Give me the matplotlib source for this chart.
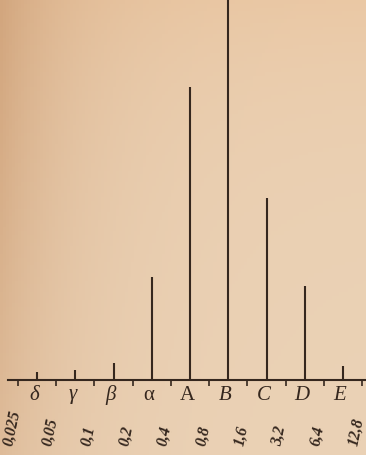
import numpy as np
import matplotlib
matplotlib.use("Agg")
import matplotlib.pyplot as plt
from matplotlib import transforms

# class boundaries (tick labels) and class heights
bounds = [0.025, 0.05, 0.1, 0.2, 0.4, 0.8, 1.6, 3.2, 6.4, 12.8]
bound_labels = ["0,025", "0,05", "0,1", "0,2", "0,4", "0,8", "1,6", "3,2", "6,4", "12,8"]
class_labels = ["δ", "γ", "β", "α", "A", "B", "C", "D", "E"]
class_italic = [True, True, True, False, False, True, True, True, True]
heights = [2.1, 2.6, 4.5, 27.0, 77.0, 103.0, 48.0, 24.7, 3.7]

INK = "#35271e"
SERIF = ["Liberation Serif", "DejaVu Serif"]

fig = plt.figure(figsize=(3.66, 4.55), dpi=100)

# paper-like background: darker toward the left edge and the top
bg = fig.add_axes([0, 0, 1, 1], zorder=-10)
gx = np.linspace(0, 1, 120)[None, :, None]
gy = np.linspace(0, 1, 120)[:, None, None]
light = np.array([235, 210, 182]) / 255
dark_left = np.array([210, 166, 126]) / 255
warm_top = np.array([234, 194, 154]) / 255
wl = np.exp(-gx / 0.2) * (0.5 + 0.5 * (1 - gy))
wt = np.exp(-gy / 0.25) * 0.6
img = light + wl * (dark_left - light) + wt * (1 - wl) * (warm_top - light)
bg.imshow(np.clip(img, 0, 1), aspect="auto", extent=[0, 1, 0, 1], origin="upper")
bg.axis("off")

ax = fig.add_axes([8 / 366, 75 / 455, 358 / 366, 380 / 455])
ax.patch.set_alpha(0)
ax.set_xscale("log", base=2)
ax.set_xlim(bounds[0] * 2 ** -0.26, bounds[-1] * 2 ** 0.1)
ax.set_ylim(0, 100)

centers = np.sqrt(np.array(bounds[:-1]) * np.array(bounds[1:]))
ax.vlines(centers, 0, heights, color=INK, lw=1.5)

for s in ["top", "right", "left"]:
    ax.spines[s].set_visible(False)
ax.spines["bottom"].set_color(INK)
ax.spines["bottom"].set_linewidth(1.5)
ax.set_yticks([])
ax.set_xticks(bounds)
ax.set_xticklabels([])
ax.xaxis.set_minor_locator(plt.NullLocator())
ax.tick_params(axis="x", direction="out", length=4, width=1.2, color=INK)

trans = transforms.blended_transform_factory(ax.transData, fig.transFigure)
num_trans = transforms.offset_copy(trans, fig=fig, x=-6, y=0, units="dots")
for b, lab in zip(bounds, bound_labels):
    ax.text(b, 8 / 455, lab, transform=num_trans, rotation=78,
            ha="center", va="bottom", fontsize=11.5, fontstyle="italic",
            fontweight="bold", family=SERIF, color=INK, clip_on=False)

let_trans = transforms.offset_copy(trans, fig=fig, x=-3, y=0, units="dots")
for c, lab, it in zip(centers, class_labels, class_italic):
    ax.text(c, (455 - 395) / 455, lab, transform=let_trans,
            ha="center", va="center", fontsize=15,
            fontstyle="italic" if it else "normal",
            family=SERIF, color=INK, clip_on=False)

fig.savefig("out.png", dpi=100)
